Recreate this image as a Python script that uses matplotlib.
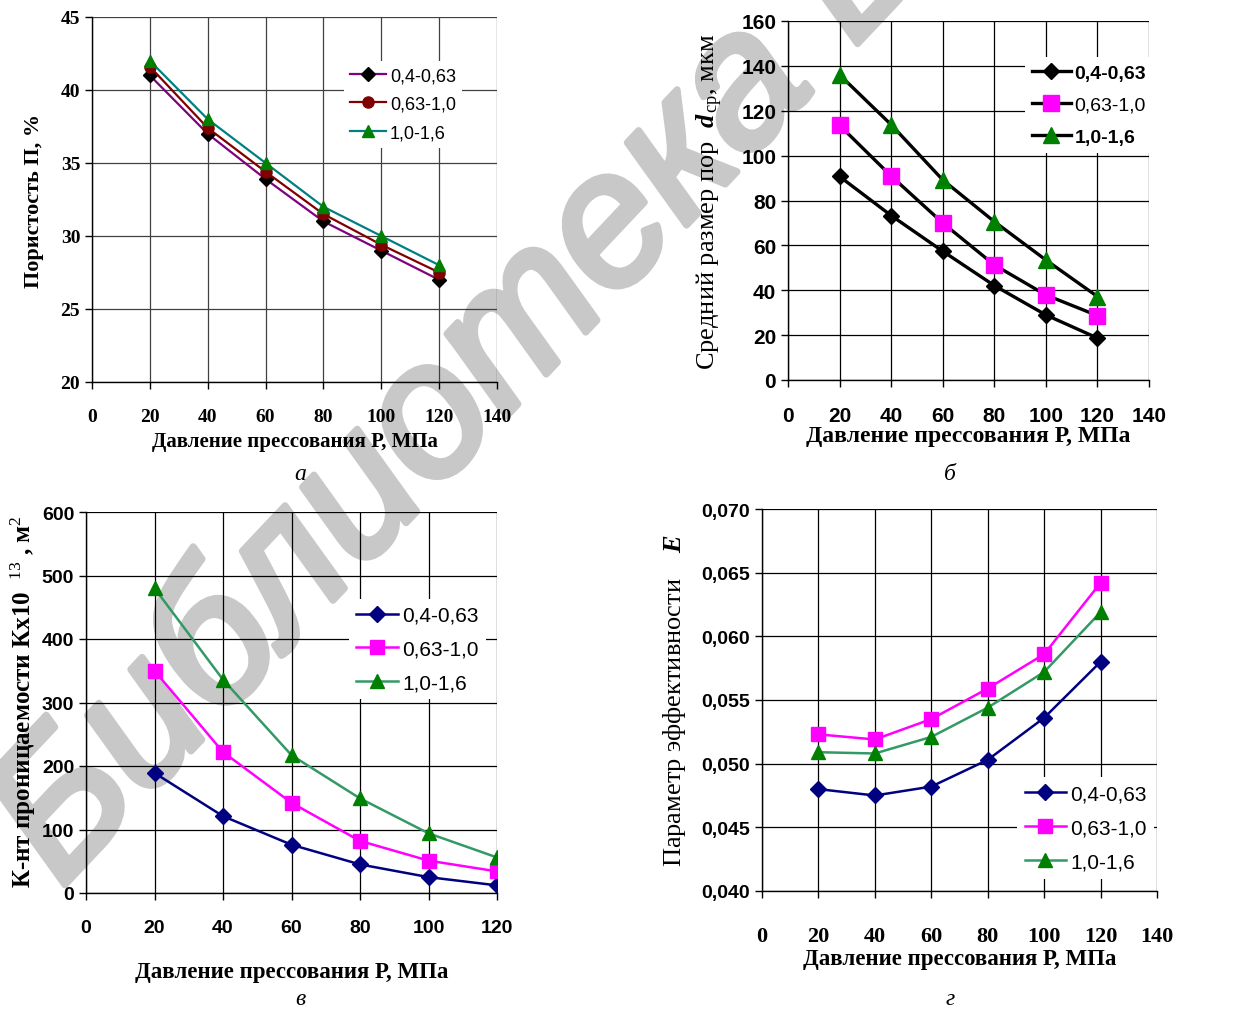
import numpy as np
import matplotlib
matplotlib.use("Agg")
import matplotlib.pyplot as plt
import matplotlib.patheffects as pe

plt.rcParams['mathtext.fontset'] = 'custom'
plt.rcParams['mathtext.rm'] = 'Liberation Serif'
plt.rcParams['mathtext.bf'] = 'Liberation Serif:bold'
plt.rcParams['mathtext.it'] = 'Liberation Serif:italic'
plt.rcParams['mathtext.bfit'] = 'Liberation Serif:italic:bold'

# давление прессования, МПа
pressure = [20, 40, 60, 80, 100, 120]
fractions = ['0,4-0,63', '0,63-1,0', '1,0-1,6']

# а - пористость, %
por_1 = [41.0, 37.0, 33.9, 31.0, 29.0, 27.0]
por_2 = [41.6, 37.4, 34.4, 31.5, 29.4, 27.5]
por_3 = [42.0, 38.0, 35.0, 32.0, 30.0, 28.0]

# б - средний размер пор, мкм
d_1 = [90.7, 73.3, 57.4, 42.1, 29.0, 18.7]
d_2 = [113.5, 90.9, 70.0, 51.3, 37.9, 28.7]
d_3 = [136.0, 113.8, 89.2, 70.6, 53.5, 37.2]

# в - коэффициент проницаемости
k_1 = [189, 121, 76, 45, 25, 12]
k_2 = [350, 222, 142, 82, 51, 34]
k_3 = [480, 336, 217, 149, 94, 56]

# г - параметр эффективности
e_1 = [0.0480, 0.0475, 0.0482, 0.0503, 0.0536, 0.0580]
e_2 = [0.0523, 0.0519, 0.0535, 0.0559, 0.0586, 0.0642]
e_3 = [0.0509, 0.0508, 0.0521, 0.0544, 0.0572, 0.0619]

W, H = 1251, 1012
fig = plt.figure(figsize=(W / 100, H / 100), dpi=100)

SERIF = 'Liberation Serif'
SANS = 'Liberation Sans'
XLAB = 'Давление прессования Р, МПа'


def px_axes(l, t, r, b):
    ax = fig.add_axes([l / W, 1 - b / H, (r - l) / W, (b - t) / H])
    ax.patch.set_facecolor('none')
    for s in ['top', 'right']:
        ax.spines[s].set_visible(False)
    for s in ['left', 'bottom']:
        ax.spines[s].set_color('black')
        ax.spines[s].set_linewidth(1.0)
    ax.tick_params(direction='out', length=5, width=1, color='black')
    ax.grid(True, color='black', linewidth=0.9)
    ax.set_axisbelow(True)
    return ax


def style_ticks(ax, xfam, xsize, yfam, ysize):
    for lab in ax.get_xticklabels():
        lab.set_fontfamily(xfam)
        lab.set_fontsize(xsize)
        lab.set_fontweight('bold')
    for lab in ax.get_yticklabels():
        lab.set_fontfamily(yfam)
        lab.set_fontsize(ysize)
        lab.set_fontweight('bold')


def legend(ax, x, y, size, spacing, bold=None):
    leg = ax.legend(loc='upper left', bbox_to_anchor=(x, y), frameon=True,
                    fancybox=False, framealpha=1, edgecolor='none',
                    facecolor='white', borderpad=0.35, handlelength=2.0,
                    handletextpad=0.2, labelspacing=spacing,
                    prop={'family': SANS, 'size': size})
    leg.set_zorder(5)
    if bold:
        for t, b in zip(leg.get_texts(), bold):
            if b:
                t.set_fontweight('bold')
    return leg


# ---- а ----
ax = px_axes(92, 18, 497, 383)
ax.grid(True, color='#404040', linewidth=0.9)
ax.plot(pressure, por_1, color='#800080', lw=1.6, marker='D', ms=7,
        mfc='black', mec='black', label=fractions[0])
ax.plot(pressure, por_2, color='#800000', lw=1.6, marker='o', ms=8,
        mfc='#800000', mec='#800000', label=fractions[1])
ax.plot(pressure, por_3, color='#008080', lw=1.6, marker='^', ms=9,
        mfc='#008000', mec='#008000', label=fractions[2])
ax.set_xlim(0, 140)
ax.set_ylim(20, 45)
ax.set_xticks(np.arange(0, 141, 20))
ax.set_yticks(np.arange(20, 46, 5))
style_ticks(ax, SERIF, 14, SERIF, 14)
ax.tick_params(axis='x', pad=14)
ax.set_xlabel(XLAB, family=SERIF, fontsize=15, fontweight='bold', labelpad=4)
ax.set_ylabel('Пористость П, %', family=SERIF, fontsize=16, fontweight='bold')
ax.yaxis.set_label_coords((44 - 92) / 405, 0.5)
legend(ax, 0.6, 0.905, 13, 0.65)
fig.text(300 / W, 1 - 475 / H, 'а', family=SERIF, style='italic',
         fontsize=17, ha='center', va='center')

# ---- б ----
ax = px_axes(788, 22, 1149, 381)
ax.plot(pressure, d_1, color='black', lw=2.4, marker='D', ms=8,
        mfc='black', mec='black', label=fractions[0])
ax.plot(pressure, d_2, color='black', lw=2.4, marker='s', ms=12,
        mfc='#FF00FF', mec='#FF00FF', label=fractions[1])
ax.plot(pressure, d_3, color='black', lw=2.4, marker='^', ms=12,
        mfc='#008000', mec='#008000', label=fractions[2])
ax.set_xlim(0, 140)
ax.set_ylim(0, 160)
ax.set_xticks(np.arange(0, 141, 20))
ax.set_yticks(np.arange(0, 161, 20))
style_ticks(ax, SANS, 15, SANS, 15)
ax.tick_params(axis='x', pad=14)
ax.set_xlabel(XLAB, family=SERIF, fontsize=17, fontweight='bold', labelpad=0)
ax.set_ylabel(r'Средний размер пор  $\mathbfit{d}_{\,\mathrm{ср}}$, мкм',
              family=SERIF, fontsize=19)
ax.yaxis.set_label_coords((725 - 788) / 361, 0.5)
legend(ax, 0.63, 0.926, 14, 0.75, bold=[True, False, True])
fig.text(950 / W, 1 - 475 / H, 'б', family=SERIF, style='italic',
         fontsize=17, ha='center', va='center')

# ---- в ----
ax = px_axes(86, 513, 497, 894)
ax.plot(pressure, k_1, color='#000080', lw=1.8, marker='D', ms=8,
        mfc='#000080', mec='#000080', label=fractions[0])
ax.plot(pressure, k_2, color='#FF00FF', lw=1.8, marker='s', ms=10,
        mfc='#FF00FF', mec='#FF00FF', label=fractions[1])
ax.plot(pressure, k_3, color='#339966', lw=1.8, marker='^', ms=10,
        mfc='#008000', mec='#008000', label=fractions[2])
ax.set_xlim(0, 120)
ax.set_ylim(0, 600)
ax.set_xticks(np.arange(0, 121, 20))
ax.set_yticks(np.arange(0, 601, 100))
style_ticks(ax, SANS, 14, SANS, 14)
ax.tick_params(axis='x', pad=14)
ax.set_xlabel(XLAB, family=SERIF, fontsize=16.5, fontweight='bold', labelpad=18)
ax.set_ylabel(r'К-нт проницаемости Кх10  $^{13}$ , м$^{2}$',
              family=SERIF, fontsize=18, fontweight='bold')
ax.yaxis.set_label_coords((38 - 86) / 411, 0.505)
legend(ax, 0.615, 0.8, 15, 0.7)
fig.text(300 / W, 1 - 1000 / H, 'в', family=SERIF, style='italic',
         fontsize=17, ha='center', va='center')

# ---- г ----
ax = px_axes(762, 510, 1157, 892)
ax.plot(pressure, e_1, color='#000080', lw=1.8, marker='D', ms=8,
        mfc='#000080', mec='#000080', label=fractions[0])
ax.plot(pressure, e_2, color='#FF00FF', lw=1.8, marker='s', ms=10,
        mfc='#FF00FF', mec='#FF00FF', label=fractions[1])
ax.plot(pressure, e_3, color='#339966', lw=1.8, marker='^', ms=10,
        mfc='#008000', mec='#008000', label=fractions[2])
ax.set_xlim(0, 140)
ax.set_ylim(0.040, 0.070)
ax.set_xticks(np.arange(0, 141, 20))
ax.set_yticks(np.arange(0.040, 0.0701, 0.005))
ax.set_yticklabels([f'{v:.3f}'.replace('.', ',') for v in ax.get_yticks()])
style_ticks(ax, SERIF, 16, SANS, 14)
ax.tick_params(axis='x', pad=20)
ax.set_xlabel(XLAB, family=SERIF, fontsize=16.5, fontweight='bold', labelpad=2)
ax.set_ylabel(r'Параметр эффективности    $\mathbfit{E}$',
              family=SERIF, fontsize=19)
ax.yaxis.set_label_coords((688 - 762) / 395, 0.5)
legend(ax, 0.62, 0.325, 15, 0.72)
fig.text(950 / W, 1 - 1000 / H, 'г', family=SERIF, style='italic',
         fontsize=17, ha='center', va='center')

# водяной знак
fig.text(61 / W, 1 - 890 / H, 'Библиотека БНТУ', family=SANS, style='italic',
         fontsize=136, color='#c8c8c8', rotation=46.7,
         rotation_mode='anchor', ha='left', va='baseline', zorder=-10,
         path_effects=[pe.withStroke(linewidth=5, foreground='#c8c8c8')])

fig.savefig('out.png', dpi=100)
